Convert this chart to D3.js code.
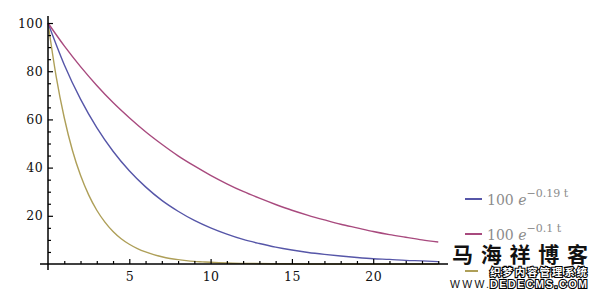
<!DOCTYPE html>
<html>
<head>
<meta charset="utf-8">
<script src="https://cdn.jsdelivr.net/npm/d3@7"></script>
<style>
  body { margin: 0; background: #fff; }
  svg { display: block; }
</style>
</head>
<body>
<div id="chart"></div>
<script>
// values
const tSteps = [0, 1, 2, 3, 4, 5, 6, 7, 8, 9, 10, 11, 12, 13, 14, 15, 16, 17, 18, 19, 20, 21, 22, 23, 24];
const blueVals = [100, 82.7, 68.4, 56.6, 46.8, 38.7, 32.0, 26.4, 21.9, 18.1, 15.0, 12.4, 10.2, 8.5, 7.0, 5.8, 4.8, 4.0, 3.3, 2.7, 2.2, 1.9, 1.5, 1.3, 1.0];
const pinkVals = [100, 90.5, 81.9, 74.1, 67.0, 60.7, 54.9, 49.7, 44.9, 40.7, 36.8, 33.3, 30.1, 27.3, 24.7, 22.3, 20.2, 18.3, 16.5, 15.0, 13.5, 12.2, 11.1, 10.0, 9.1];
const oliveT = [0, 0.5, 1, 1.5, 2, 2.5, 3, 3.5, 4, 4.5, 5, 5.5, 6, 6.5, 7, 7.5, 8, 8.5, 9, 9.5, 10, 11, 12, 14, 16, 20, 24];
const oliveVals = [100, 77.9, 60.7, 47.2, 36.8, 28.7, 22.3, 17.4, 13.5, 10.5, 8.2, 6.4, 5.0, 3.9, 3.0, 2.3, 1.8, 1.4, 1.1, 0.9, 0.7, 0.4, 0.25, 0.1, 0.03, 0, 0];

const xMajor = [5, 10, 15, 20];
const yMajor = [20, 40, 60, 80, 100];
// third label sits under the watermark in the picture, only its swatch shows
const legendExp = ["\u22120.19 t", "\u22120.1 t", null];
const colors = ["#5656a8", "#a84a7e", "#ae9f58"];

const width = 600, height = 299;
const svg = d3.select("#chart").append("svg")
    .attr("width", width)
    .attr("height", height);

const x = d3.scaleLinear().domain([0, 24.6]).range([48, 448]);
const y = d3.scaleLinear().domain([0, 102.5]).range([264, 17]);

const series = [
  tSteps.map((t, i) => [t, blueVals[i]]),
  tSteps.map((t, i) => [t, pinkVals[i]]),
  oliveT.map((t, i) => [t, oliveVals[i]])
];

const line = d3.line()
    .x(d => x(d[0]))
    .y(d => y(d[1]))
    .curve(d3.curveMonotoneX);

// curves (olive drawn first so the others sit on top)
[2, 0, 1].forEach(i => {
  svg.append("path")
      .attr("d", line(series[i]))
      .attr("fill", "none")
      .attr("stroke", colors[i])
      .attr("stroke-width", 1.4);
});

// axes
const xMinor = d3.range(1, 25).filter(v => v % 5 !== 0);
const yMinor = d3.range(5, 101, 5).filter(v => v % 20 !== 0);

const xAxisG = svg.append("g").attr("transform", `translate(0,${y(0)})`);
xAxisG.call(d3.axisBottom(x).tickValues(xMajor).tickSize(-5).tickPadding(8)
    .tickSizeOuter(0));
xAxisG.append("g").call(d3.axisBottom(x).tickValues(xMinor).tickSize(-3)
    .tickFormat("").tickSizeOuter(0));

const yAxisG = svg.append("g").attr("transform", `translate(${x(0)},0)`);
yAxisG.call(d3.axisLeft(y).tickValues(yMajor).tickSize(-5).tickPadding(5)
    .tickSizeOuter(0));
yAxisG.append("g").call(d3.axisLeft(y).tickValues(yMinor).tickSize(-3)
    .tickFormat("").tickSizeOuter(0));

svg.selectAll(".domain").remove();
svg.selectAll(".tick line").attr("stroke", "#000").attr("stroke-width", 1.2);
svg.selectAll(".tick text")
    .attr("fill", "#111")
    .style("font-family", "'DejaVu Serif', serif")
    .style("font-size", "12.5px")
    .style("letter-spacing", "0.4px");

// axis lines, x reaching a little left of the y axis
svg.append("line")
    .attr("x1", 40).attr("x2", 448)
    .attr("y1", y(0)).attr("y2", y(0))
    .attr("stroke", "#000").attr("stroke-width", 1.5);
svg.append("line")
    .attr("x1", x(0)).attr("x2", x(0))
    .attr("y1", 16).attr("y2", 270)
    .attr("stroke", "#000").attr("stroke-width", 1.5);

// legend
const legendY = [199, 234, 271];
const legend = svg.append("g");
legendExp.forEach((e, i) => {
  const g = legend.append("g").attr("transform", `translate(465,${legendY[i]})`);
  g.append("line")
      .attr("x1", 0).attr("x2", i === 2 ? 13 : 17)
      .attr("stroke", colors[i]).attr("stroke-width", 2);
  if (!e) return;
  const tx = g.append("text")
      .attr("x", 22).attr("y", 6)
      .attr("fill", "#8c8c8c")
      .style("font-family", "'DejaVu Serif', serif")
      .style("font-size", "14px");
  tx.append("tspan").text("100 ");
  tx.append("tspan").text("e").style("font-style", "italic");
  tx.append("tspan").attr("dy", -8).style("font-size", "11px").text(e);
});

// watermark
const wm = svg.append("g");
wm.append("text")
    .attr("x", 452).attr("y", 262)
    .attr("textLength", 136)
    .style("font-family", "'Noto Sans CJK SC', sans-serif")
    .style("font-size", "21px")
    .style("font-weight", "bold")
    .attr("fill", "#111")
    .text("马海祥博客");
wm.append("text")
    .attr("x", 490).attr("y", 276)
    .attr("textLength", 97)
    .style("font-family", "'Noto Sans CJK SC', sans-serif")
    .style("font-size", "10.5px")
    .style("font-weight", "bold")
    .attr("fill", "#fff")
    .attr("stroke", "#000")
    .attr("stroke-width", 2.2)
    .attr("paint-order", "stroke")
    .text("织梦内容管理系统");
wm.append("text")
    .attr("x", 450).attr("y", 288)
    .attr("textLength", 39)
    .style("font-family", "'Liberation Sans', sans-serif")
    .style("font-size", "10.5px")
    .attr("fill", "#111")
    .text("WWW.");
wm.append("text")
    .attr("x", 490).attr("y", 288)
    .attr("textLength", 97)
    .style("font-family", "'Liberation Sans', sans-serif")
    .style("font-size", "10.5px")
    .style("font-weight", "bold")
    .attr("fill", "#fff")
    .attr("stroke", "#000")
    .attr("stroke-width", 2.2)
    .attr("paint-order", "stroke")
    .text("DEDECMS.COM");
</script>
</body>
</html>
